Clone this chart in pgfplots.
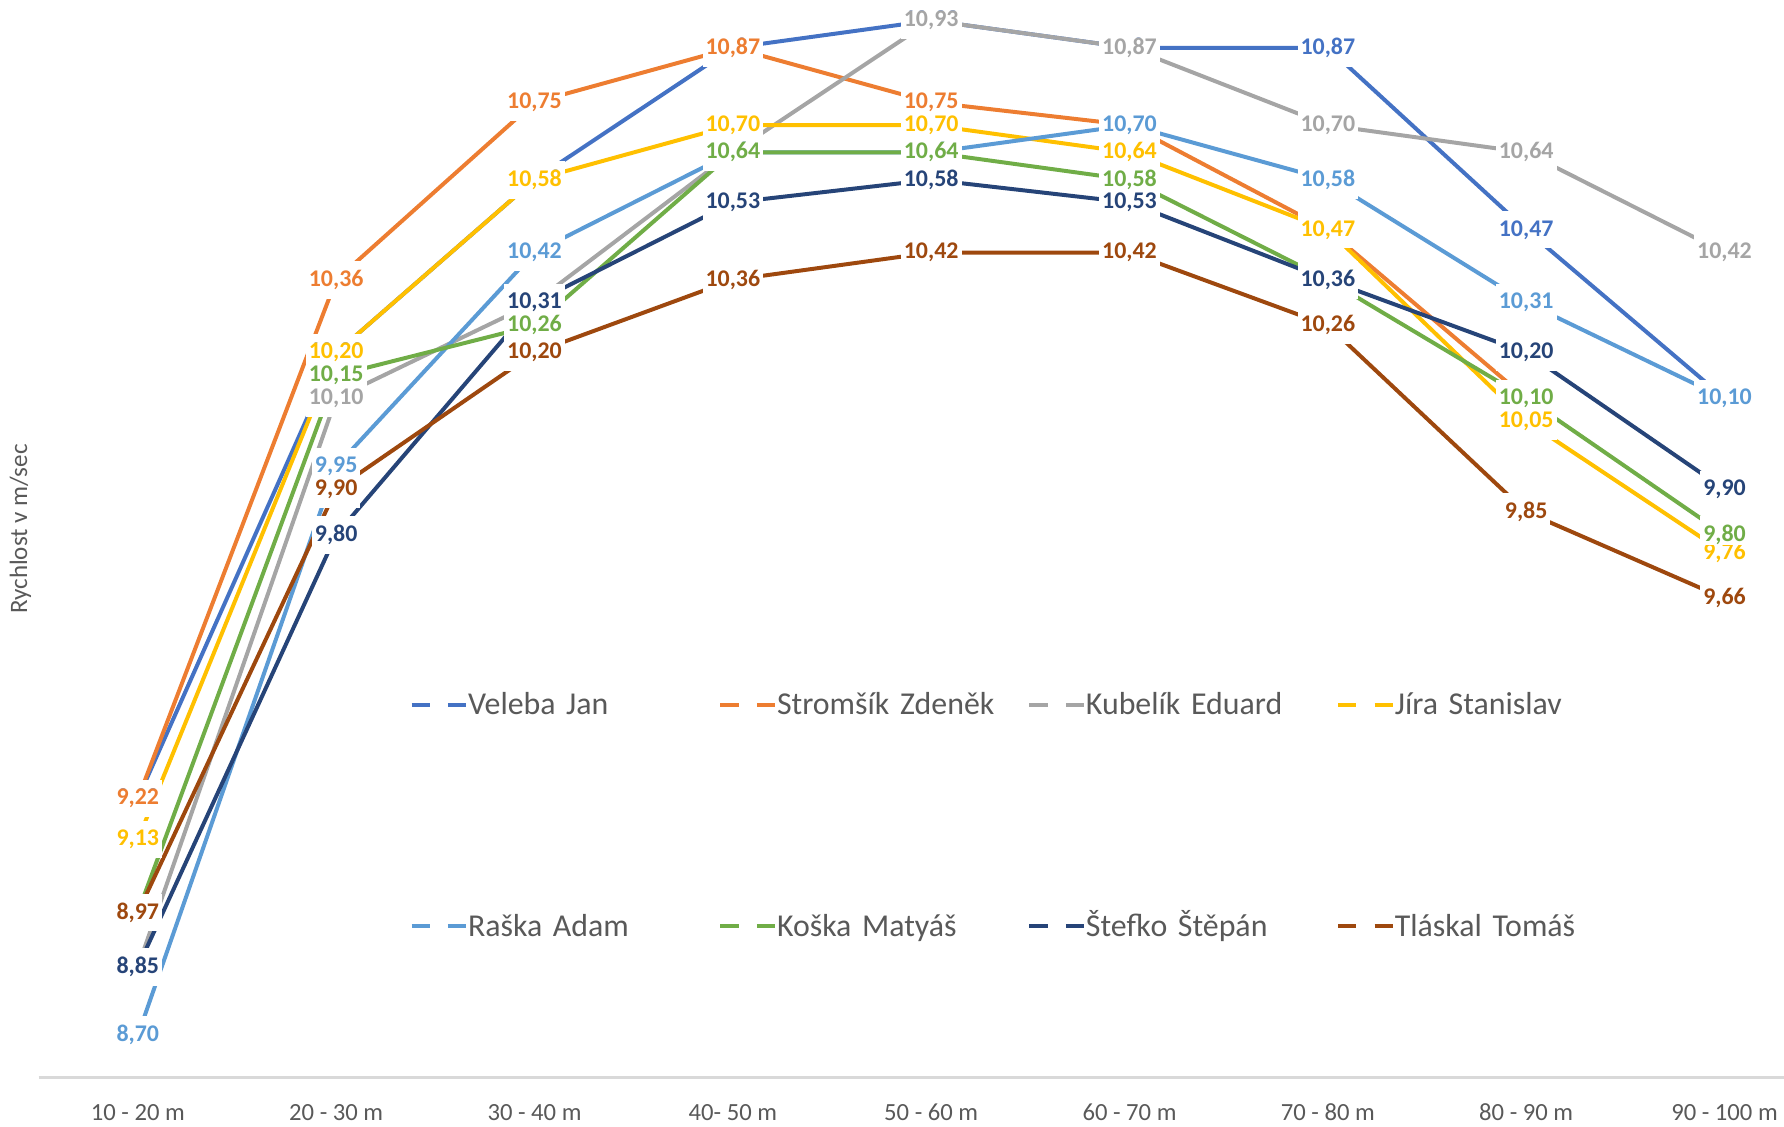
\documentclass[border=0pt]{standalone}
\usepackage{pgfplots}
\pgfplotsset{compat=1.18}
\usepackage{fontspec}
\setmainfont{Carlito}
\definecolor{cVel}{HTML}{4472C4}
\definecolor{cStr}{HTML}{ED7D31}
\definecolor{cKub}{HTML}{A5A5A5}
\definecolor{cJir}{HTML}{FFC000}
\definecolor{cRas}{HTML}{5B9BD5}
\definecolor{cKos}{HTML}{70AD47}
\definecolor{cSte}{HTML}{264478}
\definecolor{cTla}{HTML}{9E480E}
\definecolor{txtgray}{HTML}{595959}
\definecolor{axisgray}{HTML}{D9D9D9}
\pgfplotstableread{
x Vel Str Kub Jir Ras Kos Ste Tla
0 9.22 9.22 8.85 9.13 8.70 8.97 8.85 8.97
1 10.20 10.36 10.10 10.20 9.95 10.15 9.80 9.90
2 10.58 10.75 10.31 10.58 10.42 10.26 10.31 10.20
3 10.87 10.87 10.64 10.70 10.64 10.64 10.53 10.36
4 10.93 10.75 10.93 10.70 10.64 10.64 10.58 10.42
5 10.87 10.70 10.87 10.64 10.70 10.58 10.53 10.42
6 10.87 10.47 10.70 10.47 10.58 10.36 10.36 10.26
7 10.47 10.10 10.64 10.05 10.31 10.10 10.20 9.85
8 10.10 nan 10.42 9.76 10.10 9.80 9.90 9.66
}\speed
\pgfplotsset{
  ser/.style={color=#1, mark=none, line width=1.05pt, line join=round},
  labcontent/.style={draw=none, mark=none, forget plot,
    nodes near coords={\pgfmathprintnumber[use comma,fixed,fixed zerofill,precision=2,assume math mode=true]{\pgfplotspointmeta}}},
  boxlab/.style={labcontent,
    every node near coord/.append style={anchor=center, fill=white, text opacity=0,
      inner xsep=0.8pt, inner ysep=2.4pt, font=\fontsize{6.3}{7}\selectfont\bfseries}},
  lab/.style={labcontent,
    every node near coord/.append style={anchor=center, fill=white, inner xsep=0.3pt, inner ysep=0.1pt, text=#1,
      font=\fontsize{6.3}{7}\selectfont\bfseries}},
}
\begin{document}
\begin{tikzpicture}
\begin{axis}[
  at={(0pt,0pt)}, anchor=south west,
  scale only axis, width=460.2pt, height=284.1pt,
  xmin=-0.5, xmax=8.3, ymin=8.6075, ymax=10.975,
  clip=false,
  axis x line*=bottom, axis y line=none,
  x axis line style={draw=axisgray, line width=0.6pt},
  xtick={0,...,8},
  xticklabels={10 - 20 m, 20 - 30 m, 30 - 40 m, 40- 50 m, 50 - 60 m, 60 - 70 m, 70 - 80 m, 80 - 90 m, 90 - 100 m},
  ytick=\empty,
  major tick length=0pt,
  unbounded coords=discard,
  x tick label style={font=\fontsize{6.5}{7}\selectfont, text=txtgray, yshift=-3.5pt},
  legend columns=4,
  legend style={at={(0.2125,0.358)}, anchor=north west, draw=none, fill=none,
    inner sep=0pt, outer sep=0pt, font=\fontsize{8.4}{10}\selectfont, text=txtgray,
    row sep=50.5pt, column sep=0pt,
    nodes={text width=66pt, align=left, inner sep=0pt, text height=6pt, text depth=2pt}},
  legend image code/.code={
    \draw[#1, line width=1.05pt] (0pt,0.6pt) -- (4.8pt,0.6pt);
    \draw[#1, line width=1.05pt] (9.6pt,0.6pt) -- (14.4pt,0.6pt);
  },
]
% lines
\addplot[ser=cVel] table[x=x, y=Vel] {\speed};
\addlegendentry{Veleba Jan}
\addplot[ser=cStr] table[x=x, y=Str] {\speed};
\addlegendentry{Stromšík Zdeněk}
\addplot[ser=cKub] table[x=x, y=Kub] {\speed};
\addlegendentry{Kubelík Eduard}
\addplot[ser=cJir] table[x=x, y=Jir] {\speed};
\addlegendentry{Jíra Stanislav}
\addplot[ser=cRas] table[x=x, y=Ras] {\speed};
\addlegendentry{Raška Adam}
\addplot[ser=cKos] table[x=x, y=Kos] {\speed};
\addlegendentry{Koška Matyáš}
\addplot[ser=cSte] table[x=x, y=Ste] {\speed};
\addlegendentry{Štefko Štěpán}
\addplot[ser=cTla] table[x=x, y=Tla] {\speed};
\addlegendentry{Tláskal Tomáš}
% white boxes around labels (hide the lines near them)
\addplot[boxlab] table[x=x, y=Vel] {\speed};
\addplot[boxlab] table[x=x, y=Str] {\speed};
\addplot[boxlab] table[x=x, y=Kub] {\speed};
\addplot[boxlab] table[x=x, y=Jir] {\speed};
\addplot[boxlab] table[x=x, y=Ras] {\speed};
\addplot[boxlab] table[x=x, y=Kos] {\speed};
\addplot[boxlab] table[x=x, y=Ste] {\speed};
\addplot[boxlab] table[x=x, y=Tla] {\speed};
% label texts
\addplot[lab=cVel] table[x=x, y=Vel] {\speed};
\addplot[lab=cStr] table[x=x, y=Str] {\speed};
\addplot[lab=cKub] table[x=x, y=Kub] {\speed};
\addplot[lab=cJir] table[x=x, y=Jir] {\speed};
\addplot[lab=cRas] table[x=x, y=Ras] {\speed};
\addplot[lab=cKos] table[x=x, y=Kos] {\speed};
\addplot[lab=cSte] table[x=x, y=Ste] {\speed};
\addplot[lab=cTla] table[x=x, y=Tla] {\speed};
\node[rotate=90, font=\fontsize{6.6}{7}\selectfont, text=txtgray]
  at ([xshift=-4.8pt]rel axis cs:0,0.509) {Rychlost v m/sec};
\end{axis}
\pgfresetboundingbox
\path (-10.2pt,-12.9pt) rectangle (460.2pt,284.1pt);
\end{tikzpicture}
\end{document}
